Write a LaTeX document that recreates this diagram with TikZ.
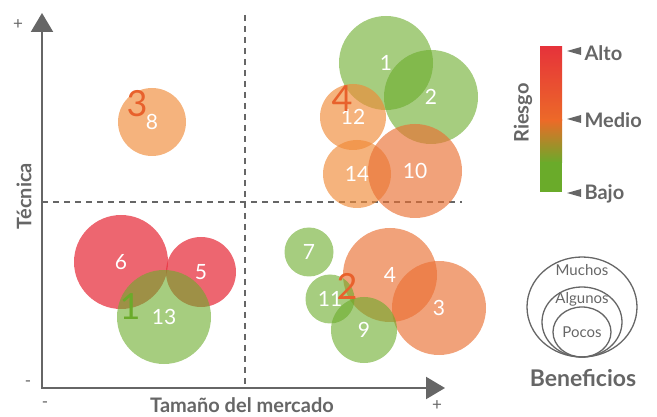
\documentclass[tikz,border=0pt]{standalone}
\usepackage{fontspec}
\setmainfont{Lato}
\usetikzlibrary{arrows.meta}
\definecolor{gris}{HTML}{666666}
\definecolor{verde}{HTML}{6AAB2A}
\definecolor{rojo}{HTML}{E73340}
\definecolor{naranja}{HTML}{F08A37}
\definecolor{salmon}{HTML}{EA7033}
\definecolor{tono}{HTML}{E8612C}
\definecolor{barrojo}{HTML}{E6333A}
\definecolor{barnaranja}{HTML}{EC6A28}
\begin{document}
\begin{tikzpicture}[x=1pt,y=-1pt,
    eje/.style={gris,line width=2.2pt},
    corte/.style={gris,line width=2.4pt,dash pattern=on 6pt off 5pt},
    bub/.style={circle,inner sep=0pt,text=white,text opacity=1,minimum size=#1,
        font=\fontsize{21}{21}\selectfont},
    verdeb/.style={fill=verde,fill opacity=0.6},
    rojob/.style={fill=rojo,fill opacity=0.75},
    naranjab/.style={fill=naranja,fill opacity=0.65},
    salmonb/.style={fill=salmon,fill opacity=0.65},
    grupo/.style={text=tono,font=\fontsize{36}{36}\selectfont},
    rotulo/.style={text=gris,font=\fontsize{20}{20}\selectfont\bfseries},
    signo/.style={text=gris,font=\fontsize{17}{17}\selectfont}]
    \useasboundingbox (0,0) rectangle (657,417);
    % ejes y cuadrantes
    \draw[corte] (245,15) -- (245,388);
    \draw[corte] (42,202) -- (462,202);
    \coordinate (o) at (42,388);
    \coordinate (ytip) at (42,13);
    \coordinate (xtip) at (445,388);
    \draw[eje,{Triangle[length=19pt,width=22pt]}-{Triangle[length=19pt,width=22pt]}] (ytip) -- (o) -- (xtip);
    \node[signo] (ymas) at (18,25) {+};
    \node[signo] (ymenos) at (28,384) {-};
    \node[signo] (xmenos) at (45,405) {-};
    \node[signo] (xmas) at (437,406) {+};
    \node[rotulo,rotate=90] (tecnica) at (24,196) {Técnica};
    \node[rotulo] (mercado) at (242,405) {Tamaño del mercado};
    % burbujas
    \node[bub=68,naranjab] (b8) at (152,122) {8};
    \node[bub=94,rojob] (b6) at (121,262) {6};
    \node[bub=70,rojob] (b5) at (201,272) {5};
    \node[bub=94,verdeb] (b13) at (164,317) {13};
    \node[bub=94,verdeb] (b1) at (386,63) {1};
    \node[bub=94,verdeb] (b2) at (431,97) {2};
    \node[bub=66,naranjab] (b12) at (353,117) {12};
    \node[bub=68,naranjab] (b14) at (357,174) {14};
    \node[bub=94,salmonb] (b10) at (415,171) {10};
    \node[bub=49,verdeb] (b7) at (309,252) {7};
    \node[bub=94,salmonb] (b4) at (390,275) {4};
    \node[bub=94,salmonb] (b3) at (439,308) {3};
    \node[bub=49,verdeb] (b11) at (330,299) {11};
    \node[bub=66,verdeb] (b9) at (364,330) {9};
    \node[grupo] (g3) at (137,104) {3};
    \node[grupo] (g4) at (342,99) {4};
    \node[grupo] (g2) at (347,286) {2};
    \node[grupo,text=verde] (g1) at (130,307) {1};
    % leyenda de riesgo
    \shade[top color=barrojo,bottom color=barnaranja] (540,47) rectangle (562,121);
    \shade[top color=barnaranja,bottom color=verde] (540,120) rectangle (562,163);
    \fill[verde] (540,162) rectangle (562,192);
    \fill[gris] (567,51) -- (581,47) -- (581,55) -- cycle;
    \fill[gris] (567,119) -- (581,115) -- (581,123) -- cycle;
    \fill[gris] (567,193) -- (581,189) -- (581,197) -- cycle;
    \node[rotulo,anchor=west] (alto) at (581,53) {Alto};
    \node[rotulo,anchor=west] (medio) at (581,120) {Medio};
    \node[rotulo,anchor=west] (bajo) at (581,194) {Bajo};
    \node[rotulo,rotate=90] (riesgo) at (523,113) {Riesgo};
    % leyenda de beneficios
    \draw[gris,line width=1.3pt] (582,307) ellipse [x radius=55,y radius=50];
    \draw[gris,line width=1.3pt] (582,322) ellipse [x radius=40,y radius=35];
    \draw[gris,line width=1.3pt] (582,332) ellipse [x radius=29,y radius=25];
    \node[text=gris,font=\fontsize{15}{15}\selectfont] (muchos) at (582,270) {Muchos};
    \node[text=gris,font=\fontsize{15}{15}\selectfont] (algunos) at (582,299) {Algunos};
    \node[text=gris,font=\fontsize{15}{15}\selectfont] (pocos) at (582,332) {Pocos};
    \node[text=gris,font=\fontsize{23}{23}\selectfont\bfseries] (beneficios) at (583,378) {Beneficios};
\end{tikzpicture}
\end{document}
